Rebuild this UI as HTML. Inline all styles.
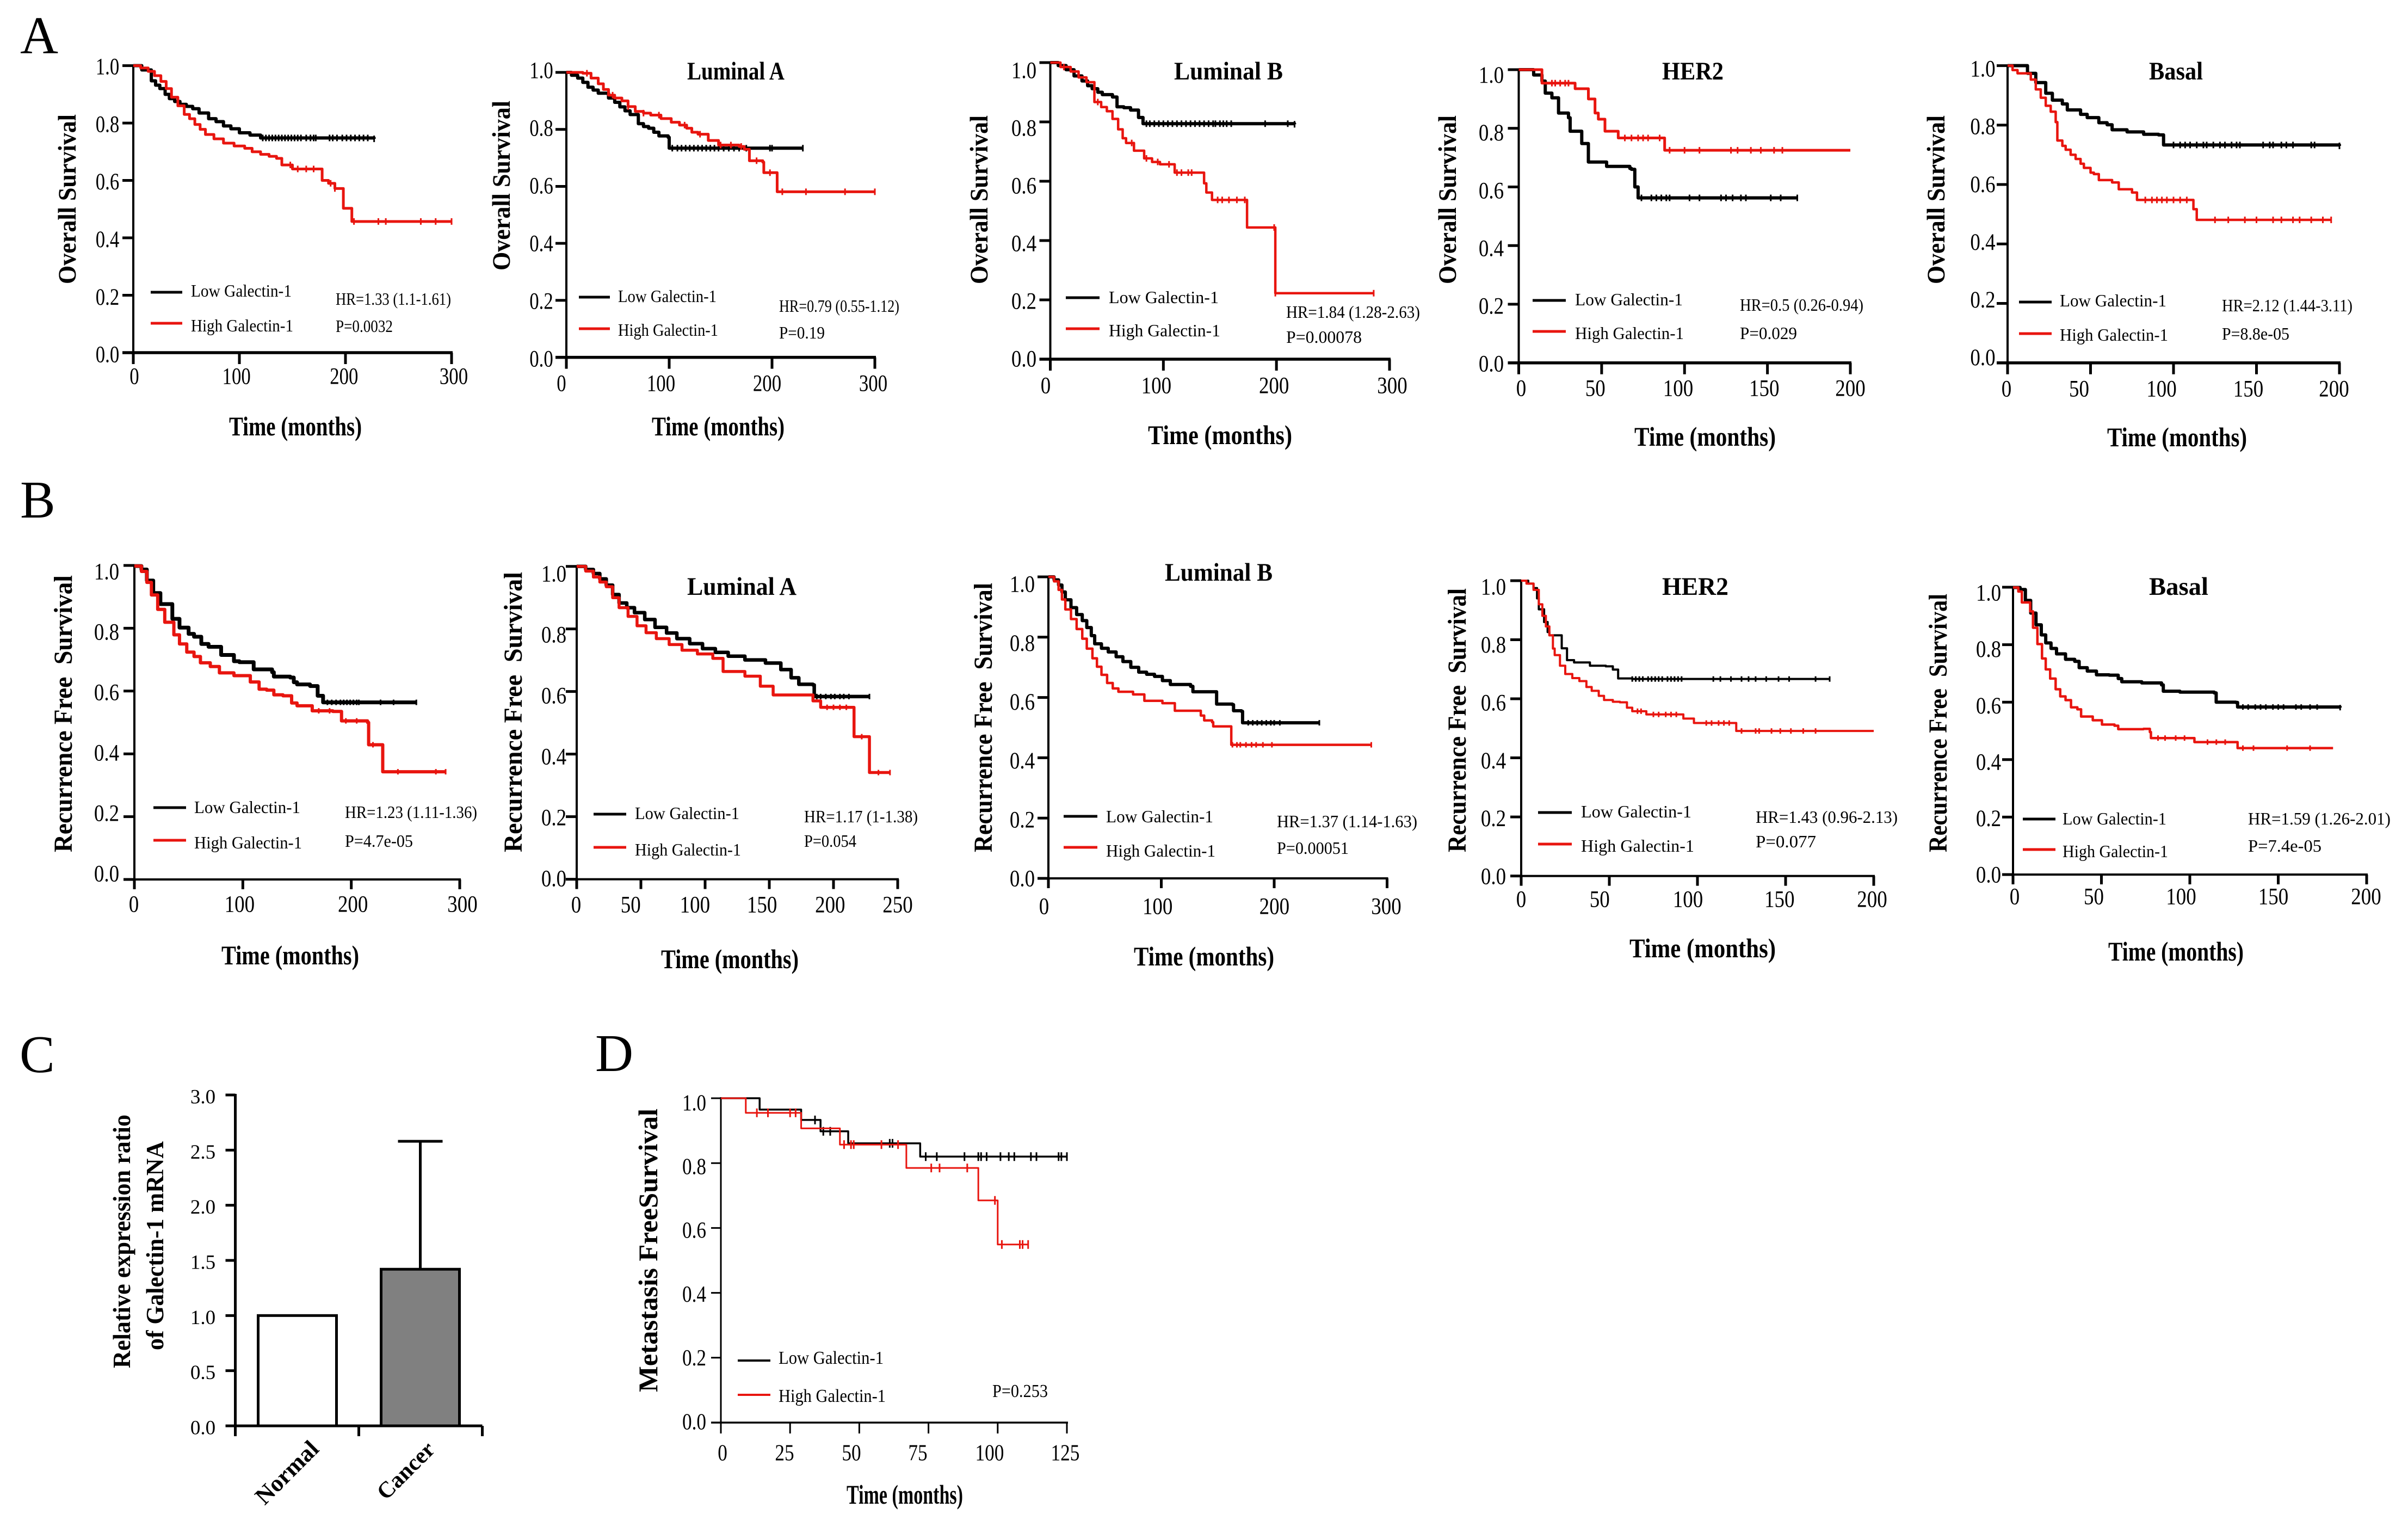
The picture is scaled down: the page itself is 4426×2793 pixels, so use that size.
<!DOCTYPE html>
<html lang="en">
<head>
<meta charset="utf-8">
<title>Galectin-1 survival curves</title>
<style>
html,body{margin:0;padding:0;background:#fff;}
svg{display:block;}
text{font-family:"Liberation Serif","Times New Roman",serif;fill:#000;white-space:pre;}
.letter{font-size:97px;}
.leg{font-size:32px;}
.stat{font-size:32px;}
.ttl{font-size:47px;font-weight:bold;}
.xt{font-size:50px;font-weight:bold;}
.yt{font-size:47px;font-weight:bold;}
.yt2{font-size:48px;font-weight:bold;}
.yd{font-size:50px;font-weight:bold;}
.yc{font-size:45px;font-weight:bold;}
</style>
</head>
<body>
<svg id="figure" xmlns="http://www.w3.org/2000/svg" width="4426" height="2793" viewBox="0 0 4426 2793">
<rect width="4426" height="2793" fill="#fff"/>

<text class="letter" x="37" y="98">A</text>
<text class="letter" x="37" y="951">B</text>
<text class="letter" x="36" y="1970">C</text>
<text class="letter" x="1094" y="1968">D</text>

<!-- A1 -->
<g id="a1">
<text class="yt" transform="rotate(-90 139 522)" x="139" y="522" textLength="312" lengthAdjust="spacingAndGlyphs">Overall Survival</text>
<text class="xt" x="421" y="800" textLength="244" lengthAdjust="spacingAndGlyphs">Time (months)</text>
<line x1="277" x2="335" y1="537" y2="537" stroke="#000" stroke-width="5"/>
<line x1="277" x2="335" y1="594" y2="594" stroke="#e8150f" stroke-width="5"/>
<text class="leg" x="351" y="545" textLength="185" lengthAdjust="spacingAndGlyphs">Low Galectin-1</text>
<text class="leg" x="351" y="609" textLength="188" lengthAdjust="spacingAndGlyphs">High Galectin-1</text>
<text class="stat" x="617" y="560" textLength="212" lengthAdjust="spacingAndGlyphs">HR=1.33 (1.1-1.61)</text>
<text class="stat" x="617" y="610" textLength="105" lengthAdjust="spacingAndGlyphs">P=0.0032</text>
</g>

<!-- A2 -->
<g id="a2">
<text class="yt" transform="rotate(-90 937 497)" x="937" y="497" textLength="312" lengthAdjust="spacingAndGlyphs">Overall Survival</text>
<text class="xt" x="1198" y="800" textLength="244" lengthAdjust="spacingAndGlyphs">Time (months)</text>
<text class="ttl" x="1263" y="146" textLength="179" lengthAdjust="spacingAndGlyphs">Luminal A</text>
<line x1="1064" x2="1121" y1="546" y2="546" stroke="#000" stroke-width="5"/>
<line x1="1064" x2="1121" y1="604" y2="604" stroke="#e8150f" stroke-width="5"/>
<text class="leg" x="1136" y="555" textLength="181" lengthAdjust="spacingAndGlyphs">Low Galectin-1</text>
<text class="leg" x="1136" y="617" textLength="184" lengthAdjust="spacingAndGlyphs">High Galectin-1</text>
<text class="stat" x="1432" y="573" textLength="221" lengthAdjust="spacingAndGlyphs">HR=0.79 (0.55-1.12)</text>
<text class="stat" x="1432" y="622" textLength="84" lengthAdjust="spacingAndGlyphs">P=0.19</text>
</g>

<!-- A3 -->
<g id="a3">
<text class="yt" transform="rotate(-90 1815 522)" x="1815" y="522" textLength="310" lengthAdjust="spacingAndGlyphs">Overall Survival</text>
<text class="xt" x="2110" y="816" textLength="265" lengthAdjust="spacingAndGlyphs">Time (months)</text>
<text class="ttl" x="2158" y="146" textLength="200" lengthAdjust="spacingAndGlyphs">Luminal B</text>
<line x1="1959" x2="2021" y1="547" y2="547" stroke="#000" stroke-width="5"/>
<line x1="1959" x2="2021" y1="604" y2="604" stroke="#e8150f" stroke-width="5"/>
<text class="leg" x="2038" y="557" textLength="202" lengthAdjust="spacingAndGlyphs">Low Galectin-1</text>
<text class="leg" x="2038" y="618" textLength="205" lengthAdjust="spacingAndGlyphs">High Galectin-1</text>
<text class="stat" x="2364" y="584" textLength="246" lengthAdjust="spacingAndGlyphs">HR=1.84 (1.28-2.63)</text>
<text class="stat" x="2364" y="630" textLength="139" lengthAdjust="spacingAndGlyphs">P=0.00078</text>
</g>

<!-- A4 -->
<g id="a4">
<text class="yt" transform="rotate(-90 2676 522)" x="2676" y="522" textLength="310" lengthAdjust="spacingAndGlyphs">Overall Survival</text>
<text class="xt" x="3004" y="819" textLength="260" lengthAdjust="spacingAndGlyphs">Time (months)</text>
<text class="ttl" x="3055" y="146" textLength="113" lengthAdjust="spacingAndGlyphs">HER2</text>
<line x1="2817" x2="2878" y1="552" y2="552" stroke="#000" stroke-width="5"/>
<line x1="2817" x2="2878" y1="609" y2="609" stroke="#e8150f" stroke-width="5"/>
<text class="leg" x="2895" y="561" textLength="198" lengthAdjust="spacingAndGlyphs">Low Galectin-1</text>
<text class="leg" x="2895" y="623" textLength="200" lengthAdjust="spacingAndGlyphs">High Galectin-1</text>
<text class="stat" x="3198" y="571" textLength="227" lengthAdjust="spacingAndGlyphs">HR=0.5 (0.26-0.94)</text>
<text class="stat" x="3198" y="623" textLength="105" lengthAdjust="spacingAndGlyphs">P=0.029</text>
</g>

<!-- A5 -->
<g id="a5">
<text class="yt" transform="rotate(-90 3574 522)" x="3574" y="522" textLength="310" lengthAdjust="spacingAndGlyphs">Overall Survival</text>
<text class="xt" x="3873" y="820" textLength="257" lengthAdjust="spacingAndGlyphs">Time (months)</text>
<text class="ttl" x="3950" y="146" textLength="99" lengthAdjust="spacingAndGlyphs">Basal</text>
<line x1="3711" x2="3771" y1="555" y2="555" stroke="#000" stroke-width="5"/>
<line x1="3711" x2="3771" y1="613" y2="613" stroke="#e8150f" stroke-width="5"/>
<text class="leg" x="3786" y="563" textLength="196" lengthAdjust="spacingAndGlyphs">Low Galectin-1</text>
<text class="leg" x="3786" y="626" textLength="199" lengthAdjust="spacingAndGlyphs">High Galectin-1</text>
<text class="stat" x="4084" y="572" textLength="240" lengthAdjust="spacingAndGlyphs">HR=2.12 (1.44-3.11)</text>
<text class="stat" x="4084" y="624" textLength="124" lengthAdjust="spacingAndGlyphs">P=8.8e-05</text>
</g>

<!-- B1 -->
<g id="b1">
<text class="yt2" transform="rotate(-90 132 1566)" x="132" y="1566" textLength="509" lengthAdjust="spacingAndGlyphs">Recurrence Free  Survival</text>
<text class="xt" x="407" y="1772" textLength="253" lengthAdjust="spacingAndGlyphs">Time (months)</text>
<line x1="282" x2="342" y1="1484" y2="1484" stroke="#000" stroke-width="5"/>
<line x1="282" x2="342" y1="1544" y2="1544" stroke="#e8150f" stroke-width="5"/>
<text class="leg" x="357" y="1494" textLength="195" lengthAdjust="spacingAndGlyphs">Low Galectin-1</text>
<text class="leg" x="357" y="1559" textLength="198" lengthAdjust="spacingAndGlyphs">High Galectin-1</text>
<text class="stat" x="634" y="1503" textLength="243" lengthAdjust="spacingAndGlyphs">HR=1.23 (1.11-1.36)</text>
<text class="stat" x="634" y="1556" textLength="125" lengthAdjust="spacingAndGlyphs">P=4.7e-05</text>
</g>

<!-- B2 -->
<g id="b2">
<text class="yt2" transform="rotate(-90 959 1566)" x="959" y="1566" textLength="515" lengthAdjust="spacingAndGlyphs">Recurrence Free  Survival</text>
<text class="xt" x="1215" y="1779" textLength="253" lengthAdjust="spacingAndGlyphs">Time (months)</text>
<text class="ttl" x="1263" y="1093" textLength="201" lengthAdjust="spacingAndGlyphs">Luminal A</text>
<line x1="1091" x2="1151" y1="1496" y2="1496" stroke="#000" stroke-width="5"/>
<line x1="1091" x2="1151" y1="1557" y2="1557" stroke="#e8150f" stroke-width="5"/>
<text class="leg" x="1167" y="1505" textLength="192" lengthAdjust="spacingAndGlyphs">Low Galectin-1</text>
<text class="leg" x="1167" y="1572" textLength="195" lengthAdjust="spacingAndGlyphs">High Galectin-1</text>
<text class="stat" x="1478" y="1511" textLength="209" lengthAdjust="spacingAndGlyphs">HR=1.17 (1-1.38)</text>
<text class="stat" x="1478" y="1556" textLength="96" lengthAdjust="spacingAndGlyphs">P=0.054</text>
</g>

<!-- B3 -->
<g id="b3">
<text class="yt2" transform="rotate(-90 1823 1566)" x="1823" y="1566" textLength="495" lengthAdjust="spacingAndGlyphs">Recurrence Free  Survival</text>
<text class="xt" x="2084" y="1774" textLength="258" lengthAdjust="spacingAndGlyphs">Time (months)</text>
<text class="ttl" x="2141" y="1067" textLength="198" lengthAdjust="spacingAndGlyphs">Luminal B</text>
<line x1="1955" x2="2017" y1="1500" y2="1500" stroke="#000" stroke-width="5"/>
<line x1="1955" x2="2017" y1="1557" y2="1557" stroke="#e8150f" stroke-width="5"/>
<text class="leg" x="2033" y="1511" textLength="197" lengthAdjust="spacingAndGlyphs">Low Galectin-1</text>
<text class="leg" x="2033" y="1574" textLength="201" lengthAdjust="spacingAndGlyphs">High Galectin-1</text>
<text class="stat" x="2347" y="1520" textLength="258" lengthAdjust="spacingAndGlyphs">HR=1.37 (1.14-1.63)</text>
<text class="stat" x="2347" y="1569" textLength="132" lengthAdjust="spacingAndGlyphs">P=0.00051</text>
</g>

<!-- B4 -->
<g id="b4">
<text class="yt2" transform="rotate(-90 2694 1566)" x="2694" y="1566" textLength="485" lengthAdjust="spacingAndGlyphs">Recurrence Free  Survival</text>
<text class="xt" x="2995" y="1759" textLength="269" lengthAdjust="spacingAndGlyphs">Time (months)</text>
<text class="ttl" x="3055" y="1093" textLength="122" lengthAdjust="spacingAndGlyphs">HER2</text>
<line x1="2827" x2="2889" y1="1493" y2="1493" stroke="#000" stroke-width="5"/>
<line x1="2827" x2="2889" y1="1551" y2="1551" stroke="#e8150f" stroke-width="5"/>
<text class="leg" x="2906" y="1502" textLength="203" lengthAdjust="spacingAndGlyphs">Low Galectin-1</text>
<text class="leg" x="2906" y="1565" textLength="208" lengthAdjust="spacingAndGlyphs">High Galectin-1</text>
<text class="stat" x="3227" y="1512" textLength="261" lengthAdjust="spacingAndGlyphs">HR=1.43 (0.96-2.13)</text>
<text class="stat" x="3227" y="1557" textLength="111" lengthAdjust="spacingAndGlyphs">P=0.077</text>
</g>

<!-- B5 -->
<g id="b5">
<text class="yt2" transform="rotate(-90 3578 1566)" x="3578" y="1566" textLength="475" lengthAdjust="spacingAndGlyphs">Recurrence Free  Survival</text>
<text class="xt" x="3875" y="1765" textLength="249" lengthAdjust="spacingAndGlyphs">Time (months)</text>
<text class="ttl" x="3950" y="1093" textLength="109" lengthAdjust="spacingAndGlyphs">Basal</text>
<line x1="3718" x2="3778" y1="1505" y2="1505" stroke="#000" stroke-width="5"/>
<line x1="3718" x2="3778" y1="1561" y2="1561" stroke="#e8150f" stroke-width="5"/>
<text class="leg" x="3791" y="1515" textLength="191" lengthAdjust="spacingAndGlyphs">Low Galectin-1</text>
<text class="leg" x="3791" y="1575" textLength="194" lengthAdjust="spacingAndGlyphs">High Galectin-1</text>
<text class="stat" x="4132" y="1515" textLength="262" lengthAdjust="spacingAndGlyphs">HR=1.59 (1.26-2.01)</text>
<text class="stat" x="4132" y="1565" textLength="135" lengthAdjust="spacingAndGlyphs">P=7.4e-05</text>
</g>

<!-- C -->
<g id="c1">
<text class="yc" transform="rotate(-90 239 2514)" x="239" y="2514" textLength="466" lengthAdjust="spacingAndGlyphs">Relative expression ratio</text>
<text class="yc" transform="rotate(-90 300 2481)" x="300" y="2481" textLength="384" lengthAdjust="spacingAndGlyphs">of Galectin-1 mRNA</text>
</g>

<!-- D -->
<g id="d1">
<text class="yd" transform="rotate(-90 1208 2558)" x="1208" y="2558" textLength="521" lengthAdjust="spacingAndGlyphs">Metastasis FreeSurvival</text>
<text class="xt" x="1556" y="2763" textLength="214" lengthAdjust="spacingAndGlyphs">Time (months)</text>
<line x1="1356" x2="1416" y1="2500" y2="2500" stroke="#000" stroke-width="4"/>
<line x1="1356" x2="1416" y1="2563" y2="2563" stroke="#e8150f" stroke-width="4"/>
<text class="leg" x="1431" y="2506" textLength="193" lengthAdjust="spacingAndGlyphs" style="font-size:34px">Low Galectin-1</text>
<text class="leg" x="1431" y="2576" textLength="197" lengthAdjust="spacingAndGlyphs" style="font-size:34px">High Galectin-1</text>
<text class="stat" x="1824" y="2567" textLength="102" lengthAdjust="spacingAndGlyphs" style="font-size:34px">P=0.253</text>
</g>
</svg>

<script>
// Shared tick values
const yTicks = [0, 0.2, 0.4, 0.6, 0.8, 1.0];
const yTickLabels = ["0.0", "0.2", "0.4", "0.6", "0.8", "1.0"];
const xTicks300 = [0, 100, 200, 300];
const xTicks200 = [0, 50, 100, 150, 200];
const xTicks250 = [0, 50, 100, 150, 200, 250];
const xTicks125 = [0, 25, 50, 75, 100, 125];

// A1 overall survival, all
const a1LowTime = [0,8,17,21,25,30,34,39,44,50,56,62,71,78,85,92,100,110,120,227];
const a1LowSurv = [1,.985,.947,.932,.92,.90,.885,.875,.865,.858,.85,.835,.815,.805,.79,.78,.766,.758,.748,.745];
const a1LowCensor = [122,125,128,131,134,137,140,143,146,149,152,155,158,163,167,170,172,185,188,192,197,201,205,209,213,217,221,227];
const a1HighTime = [0,7,14,20,26,31,36,42,48,53,58,63,68,76,85,95,105,112,120,128,135,140,150,172,178,184,190,198,206,300];
const a1HighSurv = [1,.992,.98,.965,.945,.92,.89,.86,.83,.815,.795,.778,.76,.745,.73,.72,.712,.70,.691,.684,.677,.654,.64,.64,.6,.59,.572,.503,.457,.457];
const a1HighCensor = [148,155,163,170,186,190,208,231,238,271,285,300];

// A2 overall survival, luminal A
const a2LowTime = [0,5,11,16,21,26,31,41,47,52,57,62,70,75,80,85,90,99,100,230];
const a2LowSurv = [1,.99,.98,.965,.948,.938,.927,.91,.895,.879,.865,.852,.82,.81,.804,.79,.777,.772,.734,.734];
const a2LowCensor = [103,108,112,116,120,124,128,132,136,140,144,148,153,158,163,168,175,198,200,230];
const a2HighTime = [0,16,24,31,36,41,47,54,60,67,75,82,92,102,110,117,122,128,138,148,168,173,178,191,192,205,300];
const a2HighSurv = [1,.997,.98,.96,.94,.92,.91,.90,.88,.863,.857,.85,.838,.825,.815,.804,.79,.783,.761,.745,.74,.73,.69,.685,.648,.581,.581];
const a2HighCensor = [20,45,60,75,90,115,130,150,160,170,185,198,210,233,271,300];

// A3 overall survival, luminal B
const a3LowTime = [0,7,14,21,28,33,37,42,46,55,59,65,71,78,82,216];
const a3LowSurv = [1,.99,.976,.955,.938,.922,.912,.90,.892,.884,.851,.848,.84,.815,.794,.792];
const a3LowCensor = [85,88,92,96,100,104,108,112,116,120,124,128,132,136,140,144,146,150,153,156,160,190,210,216];
const a3HighTime = [0,9,18,25,32,39,45,50,55,60,64,67,74,83,90,97,110,129,136,138,143,174,198,199,286];
const a3HighSurv = [1,.985,.97,.95,.934,.867,.85,.836,.81,.775,.745,.729,.703,.677,.665,.657,.629,.629,.593,.562,.537,.444,.444,.2225,.2225];
const a3HighCensor = [12,42,72,85,95,105,112,116,122,125,148,152,158,165,172,198,199,286];

// A4 overall survival, HER2
const a4LowTime = [0,9,14,16,20,24,30,31,38,42,53,67,68,70,72,168];
const a4LowSurv = [1,.982,.961,.92,.904,.852,.836,.79,.748,.685,.67,.663,.66,.6,.5626,.5626];
const a4LowCensor = [74,80,83,86,89,91,103,109,122,125,129,134,137,152,158,168];
const a4HighTime = [0,9,14,33,34,40,42,46,48,52,60,86,88,200];
const a4HighSurv = [1,1,.954,.954,.935,.935,.90,.852,.831,.79,.767,.767,.725,.725];
const a4HighCensor = [20,22,25,28,30,64,68,72,75,78,85,91,100,109,128,132,140,146,154,159];

// A5 overall survival, basal
const a5LowTime = [0,9,12,17,23,27,33,36,44,48,52,55,60,63,72,82,91,94,200];
const a5LowSurv = [1,1,.974,.943,.907,.884,.871,.851,.836,.825,.825,.808,.801,.784,.777,.769,.767,.733,.73];
const a5LowCensor = [100,104,107,110,114,118,120,124,128,131,135,138,140,154,158,160,165,168,172,183,185,200];
const a5HighTime = [0,3,6,14,17,20,23,26,29,30,33,35,38,41,44,46,50,52,55,63,67,75,78,110,112,114,195];
const a5HighSurv = [1,.985,.974,.953,.92,.892,.865,.845,.81,.748,.73,.717,.70,.686,.67,.656,.64,.635,.615,.607,.584,.573,.548,.548,.517,.481,.481];
const a5HighCensor = [83,87,90,93,96,100,104,108,125,133,143,150,160,165,172,176,183,190,195];

// B1 recurrence free, all
const b1LowTime = [0,6.5,11.5,17.4,24,35,41.6,50,55,61.7,68.4,80,91.8,96.8,110,127,128.6,143.7,147,150,162,169,174,260];
const b1LowSurv = [.998,.987,.952,.912,.877,.83,.802,.782,.773,.75,.741,.715,.695,.692,.669,.66,.646,.643,.628,.621,.616,.585,.564,.564];
const b1LowCensor = [178,182,186,190,193,196,199,202,205,207,227,239,260];
const b1HighTime = [0,6.5,11.5,15.7,21.5,28,36.4,41.6,48.3,55,60.9,70,78.4,91.8,106.9,115,122,128.6,137,145,150,164,183,191,215,216,227,229,287];
const b1HighSurv = [.998,.981,.946,.906,.86,.819,.779,.75,.724,.71,.69,.678,.658,.649,.629,.606,.603,.588,.585,.562,.553,.537,.535,.505,.50,.429,.429,.343,.343];
const b1HighCensor = [170,180,195,205,220,243,278,287];

// B2 recurrence free, luminal A
const b2LowTime = [0,7,13,18,23,28,33,39,45,53,61,70,78,88,98,108,118,131,147,159,167,173,184,185,228];
const b2LowSurv = [1,.99,.977,.96,.94,.91,.883,.868,.852,.83,.805,.787,.769,.753,.737,.725,.713,.701,.691,.67,.644,.623,.621,.584,.584];
const b2LowCensor = [187,190,194,198,201,205,208,212,228];
const b2HighTime = [0,7,13,18,23,28,33,40,47,54,62,72,82,94,106,114,131,143,153,183,184,190,216,228,244];
const b2HighSurv = [1,.985,.966,.95,.935,.90,.868,.84,.81,.788,.769,.75,.732,.72,.706,.664,.649,.617,.589,.589,.57,.5495,.4557,.341,.341];
const b2HighCensor = [195,200,205,210,222,235,244];

// B3 recurrence free, luminal B
const b3LowTime = [0,5,9,12,15,20,25,30,34,38,41,47,53,60,66,73,80,87,94,101,108,126,128,145,149,163,164,171,172,240];
const b3LowSurv = [1,.99,.973,.95,.924,.898,.875,.855,.832,.805,.778,.763,.751,.735,.719,.70,.684,.677,.67,.656,.643,.637,.619,.619,.578,.576,.556,.554,.516,.516];
const b3LowCensor = [177,181,185,189,193,197,200,205,240];
const b3HighTime = [0,5,9,12,15,20,25,30,34,39,43,47,52,57,62,75,85,101,112,135,138,145,146,161,162,286];
const b3HighSurv = [1,.985,.957,.925,.892,.86,.827,.795,.762,.73,.702,.675,.648,.63,.619,.61,.589,.581,.556,.54,.524,.518,.504,.504,.443,.443];
const b3HighCensor = [163,167,170,175,180,184,190,198,286];

// B4 recurrence free, HER2
const b4LowTime = [0,4,7,9,10,13,15,16,22,23,26,30,39,48,52,55,63,175];
const b4LowSurv = [1,.99,.975,.94,.903,.86,.826,.815,.815,.771,.731,.723,.712,.71,.699,.669,.667,.667];
const b4LowCensor = [63,65,67,69,72,74,76,78,80,83,85,87,89,91,109,113,119,125,129,133,139,146,152,167,175];
const b4HighTime = [0,3,7,10,12,14,16,18,19,22,25,29,33,37,40,44,47,52,56,60,63,71,92,98,122,200];
const b4HighSurv = [1,.99,.969,.92,.881,.845,.815,.77,.748,.712,.684,.67,.66,.64,.627,.61,.596,.59,.588,.57,.558,.547,.533,.518,.491,.491];
const b4HighCensor = [66,68,75,78,82,85,88,105,108,112,115,118,125,133,135,142,147,153,160,167];

// B5 recurrence free, basal
const b5LowTime = [0,4,7,10,13,16,18.5,21.5,24.6,29.7,34.9,37.4,42,47.2,54.4,59.5,61.5,72.8,84,85,94.4,113.8,114.9,126,127,185];
const b5LowSurv = [.999,.992,.954,.91,.869,.834,.806,.787,.768,.749,.742,.72,.708,.695,.694,.682,.671,.667,.66,.638,.635,.632,.6,.599,.583,.581];
const b5LowCensor = [130,133,137,140,143,147,150,153,160,163,168,172,185];
const b5HighTime = [0,3,5,9.7,11.3,13.8,16.4,18.5,21,24.1,26.7,29.7,32.8,36.4,38.5,42.6,45.1,50.3,57.4,59.5,73.8,77.4,78,102,102.6,127,181];
const b5HighSurv = [.999,.985,.947,.916,.859,.802,.752,.714,.682,.645,.62,.607,.582,.575,.55,.55,.537,.522,.518,.506,.507,.496,.475,.475,.461,.44,.44];
const b5HighCensor = [82,86,92,97,110,115,120,130,136,155,168];

// C expression bars
const barCategories = ["Normal", "Cancer"];
const barValues = [1.0, 1.42];
const barErrorTops = [null, 2.58];
const barFills = ["#ffffff", "#808080"];
const cYTicks = [0, 0.5, 1.0, 1.5, 2.0, 2.5, 3.0];
const cYTickLabels = ["0.0", "0.5", "1.0", "1.5", "2.0", "2.5", "3.0"];

// D metastasis free survival
const d1LowTime = [0,14,29,36,46,72,125];
const d1LowSurv = [1,.965,.933,.898,.861,.82,.82];
const d1LowCensor = [34,37,39.5,61,62,74,78,88,93,94,96,101,104,106,112,114,122,123,125];
const d1HighTime = [0,9,29,43,67,93,100,111];
const d1HighSurv = [1,.955,.907,.857,.785,.685,.549,.549];
const d1HighCensor = [13,17,25,27,44.5,47,48,58,64,76,79,89,99,101.5,108,109,111];

const SVGNS = "http://www.w3.org/2000/svg";
const RED = "#e8150f";

function make(tag, attrs, parent) {
  const node = document.createElementNS(SVGNS, tag);
  for (const k in attrs) node.setAttribute(k, attrs[k]);
  parent.appendChild(node);
  return node;
}

function survAt(times, surv, t) {
  let s = surv[0];
  for (let i = 0; i < times.length; i++) { if (times[i] <= t) s = surv[i]; }
  return s;
}

function drawCurve(parent, times, surv, censor, X, Y, color, width, tickH, name) {
  let d = "M" + X(times[0]) + " " + Y(surv[0]);
  for (let i = 1; i < times.length; i++) {
    d += " H" + X(times[i]) + " V" + Y(surv[i]);
  }
  const curve = make("path", {d: d, fill: "none", stroke: color, "stroke-width": width, "stroke-linejoin": "round"}, parent);
  
  
  censor.forEach(function (t) {
    const yy = Y(survAt(times, surv, t));
    const mark = make("line", {x1: X(t), x2: X(t), y1: yy - tickH, y2: yy + tickH, stroke: color, "stroke-width": 3}, parent);
    
    
  });
}

function drawAxes(parent, c, X, Y) {
  const yAxis = make("line", {x1: c.x0, x2: c.x0, y1: c.y1 - 2, y2: c.y0, stroke: "#000", "stroke-width": c.yAxisW}, parent);
  
  
  const xAxis = make("line", {x1: c.x0 - c.tickY, x2: c.xN + 2, y1: c.y0, y2: c.y0, stroke: "#000", "stroke-width": c.xAxisW}, parent);
  
  
  yTicks.forEach(function (v, i) {
    const tick = make("line", {x1: c.x0 - c.tickY, x2: c.x0, y1: Y(v), y2: Y(v), stroke: "#000", "stroke-width": c.tickW}, parent);
    
    
    const frac = v / 1.0;
    const cy = c.labY[1] + (c.labY[0] - c.labY[1]) * frac;
    const lbl = make("text", {transform: "translate(" + c.labYX + "," + (cy + c.tickSize * 0.34) + ") scale(" + c.tickSx + ",1)", "text-anchor": "middle", "font-size": c.tickSize}, parent);
    lbl.textContent = yTickLabels[i];
    
    
  });
  c.xTicks.forEach(function (t, i) {
    const tick = make("line", {x1: X(t), x2: X(t), y1: c.y0, y2: c.y0 + c.tickX, stroke: "#000", "stroke-width": c.tickW}, parent);
    
    
    const nudge = c.labNudge ? (c.labNudge[i] || 0) : 0;
    const cx = c.labX[0] + (c.labX[1] - c.labX[0]) * t / c.xMax + nudge;
    const lbl = make("text", {transform: "translate(" + cx + "," + (c.labXY + c.tickSize * 0.34) + ") scale(" + c.tickSx + ",1)", "text-anchor": "middle", "font-size": c.tickSize}, parent);
    lbl.textContent = String(t);
    
    
  });
}

function drawKM(id, c, lowT, lowS, lowC, highT, highS, highC) {
  const parent = document.getElementById(id);
  const X = function (t) { return c.x0 + (c.xN - c.x0) * t / c.xMax; };
  const Y = function (s) { return c.y0 + (c.y1 - c.y0) * s; };
  drawAxes(parent, c, X, Y);
  drawCurve(parent, lowT, lowS, lowC, X, Y, "#000", c.lwLow, c.censorH, 'low-galectin');
  drawCurve(parent, highT, highS, highC, X, Y, RED, c.lwHigh, c.censorH, 'high-galectin');
}

function base(o) {
  return Object.assign({yAxisW: 4, xAxisW: 5.5, tickW: 5, tickY: 20, tickX: 21, tickSize: 43, tickSx: 0.86, lwLow: 6, lwHigh: 5, censorH: 6}, o);
}

drawKM("a1", base({x0:245,xN:830,y1:120.6,y0:648,xMax:300,xTicks:xTicks300,labX:[247,834],labNudge:[0,-8,-6,0],labY:[122,651],labYX:197.5,labXY:691,tickSx:0.81}), a1LowTime,a1LowSurv,a1LowCensor,a1HighTime,a1HighSurv,a1HighCensor);
drawKM("a2", base({x0:1041,xN:1608,y1:133,y0:656.6,xMax:300,xTicks:xTicks300,labX:[1032,1605],labNudge:[0,-8,-4,0],labY:[129,659],labYX:995,labXY:704,tickSx:0.81}), a2LowTime,a2LowSurv,a2LowCensor,a2HighTime,a2HighSurv,a2HighCensor);
drawKM("a3", base({x0:1930.5,xN:2554,y1:115,y0:660,xMax:300,xTicks:xTicks300,labX:[1922,2559],labNudge:[0,-9,-5,0],labY:[129,659],labYX:1882,labXY:708,lwHigh:4.5}), a3LowTime,a3LowSurv,a3LowCensor,a3HighTime,a3HighSurv,a3HighCensor);
drawKM("a4", base({x0:2791.5,xN:3401,y1:128,y0:666.7,xMax:200,xTicks:xTicks200,labX:[2796,3401],labNudge:[0,-15,-14,-7,0],labY:[137.5,668],labYX:2741,labXY:713}), a4LowTime,a4LowSurv,a4LowCensor,a4HighTime,a4HighSurv,a4HighCensor);
drawKM("a5", base({x0:3690,xN:4300,y1:120.6,y0:666.7,xMax:200,xTicks:xTicks200,labX:[3688,4290],labNudge:[0,-17,-16,-7,0],labY:[126,656.6],labYX:3644.5,labXY:714,lwHigh:4.5}), a5LowTime,a5LowSurv,a5LowCensor,a5HighTime,a5HighSurv,a5HighCensor);

drawKM("b1", base({x0:247,xN:845,y1:1039,y0:1616,xMax:300,xTicks:xTicks300,labX:[246,850],labNudge:[0,-7,0,0],labY:[1050,1605],labYX:196,labXY:1661,tickX:18,xAxisW:4,lwLow:7,lwHigh:6,censorH:5}), b1LowTime,b1LowSurv,b1LowCensor,b1HighTime,b1HighSurv,b1HighCensor);
drawKM("b2", base({x0:1060,xN:1650,y1:1040.7,y0:1615.6,xMax:250,xTicks:xTicks250,labX:[1059,1650],labNudge:[0,-18,-18,-13,-6,0],labY:[1054,1614],labYX:1018,labXY:1662,tickX:18,xAxisW:4,lwLow:6.5,lwHigh:5.5,censorH:5}), b2LowTime,b2LowSurv,b2LowCensor,b2HighTime,b2HighSurv,b2HighCensor);
drawKM("b3", base({x0:1927,xN:2549.5,y1:1060,y0:1614,xMax:300,xTicks:xTicks300,labX:[1919,2548],labNudge:[0,-1,4,0],labY:[1073,1614],labYX:1879,labXY:1665,tickX:18,xAxisW:4,lwLow:6,lwHigh:4.5,censorH:5}), b3LowTime,b3LowSurv,b3LowCensor,b3HighTime,b3HighSurv,b3HighCensor);
drawKM("b4", base({x0:2796,xN:3444,y1:1067,y0:1609.6,xMax:200,xTicks:xTicks200,labX:[2796,3441],labNudge:[0,-17,-16,-9,0],labY:[1078,1610],labYX:2745,labXY:1652,tickX:18,xAxisW:4,lwLow:4,lwHigh:4,censorH:5}), b4LowTime,b4LowSurv,b4LowCensor,b4HighTime,b4HighSurv,b4HighCensor);
drawKM("b5", base({x0:3700,xN:4350,y1:1079,y0:1607,xMax:200,xTicks:xTicks200,labX:[3703,4349],labNudge:[0,-16,-17,-9,0],labY:[1089,1607],labYX:3655,labXY:1647,tickX:18,xAxisW:4,lwLow:6,lwHigh:4.5,censorH:5}), b5LowTime,b5LowSurv,b5LowCensor,b5HighTime,b5HighSurv,b5HighCensor);

drawKM("d1", base({x0:1325,xN:1961,y1:2018,y0:2614,xMax:125,xTicks:xTicks125,labX:[1328,1958],labNudge:[0,-12,-15,-19,-13,0],labY:[2026,2612],labYX:1276,labXY:2669,tickSize:42,tickSx:0.84,yAxisW:3,xAxisW:3.5,tickW:3,tickY:18,tickX:20,lwLow:3.5,lwHigh:3,censorH:8}), d1LowTime,d1LowSurv,d1LowCensor,d1HighTime,d1HighSurv,d1HighCensor);

// Bar chart
(function () {
  const parent = document.getElementById("c1");
  const axisX = 432.5, y0 = 2620, y3 = 2012, xEnd = 886.5;
  const Y = function (v) { return y0 + (y3 - y0) * v / 3; };
  const yAxis = make("line", {x1: axisX, x2: axisX, y1: y3 - 2, y2: y0, stroke: "#000", "stroke-width": 5}, parent);
  
  
  const xAxis = make("line", {x1: 414.5, x2: xEnd, y1: y0, y2: y0, stroke: "#000", "stroke-width": 5}, parent);
  
  
  cYTicks.forEach(function (v, i) {
    const tick = make("line", {x1: 414.5, x2: axisX, y1: Y(v), y2: Y(v), stroke: "#000", "stroke-width": 5}, parent);
    
    
    const lbl = make("text", {x: 373, y: Y(v) + 3 + 37 * 0.34, "text-anchor": "middle", "font-size": 37}, parent);
    lbl.textContent = cYTickLabels[i];
    
    
  });
  const slot = (xEnd - axisX) / barCategories.length;
  for (let i = 0; i <= barCategories.length; i++) {
    const tx = axisX + slot * i;
    const tick = make("line", {x1: tx, x2: tx, y1: y0, y2: 2639, stroke: "#000", "stroke-width": 5}, parent);
    
    
  }
  barCategories.forEach(function (cat, i) {
    const cx = axisX + slot * (i + 0.5) + (i === 0 ? 0.5 : -0.5);
    const bw = 144;
    if (barErrorTops[i] !== null) {
      const stem = make("line", {x1: cx, x2: cx, y1: Y(barErrorTops[i]), y2: Y(barValues[i]), stroke: "#000", "stroke-width": 5}, parent);
      
      
      const cap = make("line", {x1: cx - 41, x2: cx + 41, y1: Y(barErrorTops[i]), y2: Y(barErrorTops[i]), stroke: "#000", "stroke-width": 5}, parent);
      
      
    }
    const bar = make("rect", {x: cx - bw / 2, y: Y(barValues[i]), width: bw, height: y0 - Y(barValues[i]), fill: barFills[i], stroke: "#000", "stroke-width": 5}, parent);
    
    
    const lx = cx - 15 + (i === 0 ? 6 : -2), ly = 2701 + (i === 0 ? 1 : -3);
    const lbl = make("text", {transform: "translate(" + lx + "," + (ly + 14) + ") rotate(-45)", "text-anchor": "middle", "font-size": i === 0 ? 44 : 42, "font-weight": "bold"}, parent);
    lbl.textContent = cat;
    
    
  });
})();
</script>
</body>
</html>
